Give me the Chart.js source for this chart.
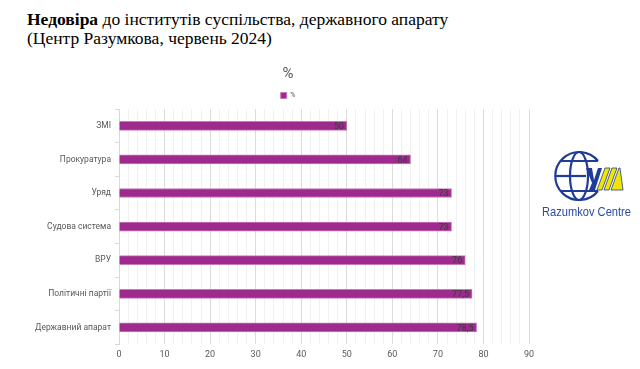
<!DOCTYPE html>
<html>
<head>
<meta charset="utf-8">
<script src="https://cdn.jsdelivr.net/npm/chart.js@4/dist/chart.umd.min.js"></script>
<style>
  html, body { margin: 0; padding: 0; background: #fff; }
  body { width: 640px; height: 369px; position: relative; overflow: hidden; }
  .ttl { position: absolute; left: 27px; top: 10px; font-family: "Liberation Serif", "Times New Roman", serif; font-size: 17.5px; line-height: 19px; color: #000; }
  .ttl b { font-weight: 700; }
  .cw { position: absolute; left: 0; top: 55px; width: 640px; height: 314px; }
  .logo { position: absolute; left: 540px; top: 145px; width: 100px; height: 80px; }
</style>
</head>
<body>
<div class="ttl"><b>Недовіра</b> до інститутів суспільства, державного апарату<br>(Центр Разумкова, червень 2024)</div>
<div class="cw"><canvas id="c" role="img" aria-label="Недовіра до інститутів"></canvas></div>
<svg class="logo" viewBox="0 0 100 80">
  <g fill="none" stroke="#1e3c98" stroke-width="2.2">
    <path d="M58 16 A24 24 0 1 0 58 46"/>
    <ellipse cx="39" cy="31" rx="9" ry="24"/>
    <line x1="21" y1="16" x2="58" y2="16"/>
    <line x1="15" y1="31" x2="46" y2="31"/>
    <line x1="21" y1="46" x2="58" y2="46"/>
  </g>
  <path d="M46 23 L52 23 L54 35 L58 23 L62 23 L55 45 L49 45 L52 38 Z" fill="#1e3c98"/>
  <path d="M57 45 L65 23 L70 23 L62 45 Z" fill="#f2e600" stroke="#1e3c98" stroke-width="0.8"/>
  <path d="M64 45 L72 23 L77 23 L69 45 Z" fill="#f2e600" stroke="#1e3c98" stroke-width="0.8"/>
  <path d="M71 45 L79 23 L80 23 L83 45 Z" fill="#f2e600" stroke="#1e3c98" stroke-width="0.8"/>
  <text x="2" y="71" font-family="Liberation Sans, Arial, sans-serif" font-size="13" fill="#2b4ba3" textLength="89" lengthAdjust="spacingAndGlyphs">Razumkov Centre</text>
</svg>
<script>
const categories = ['ЗМІ', 'Прокуратура', 'Уряд', 'Судова система', 'ВРУ', 'Політичні партії', 'Державний апарат'];
const distrust = [50, 64, 73, 73, 76, 77.5, 78.5];
const seriesName = '%';
const xMax = 90;

// value labels drawn inside the end of each bar
const barLabels = {
  id: 'barLabels',
  afterDatasetsDraw(chart) {
    const ctx = chart.ctx;
    const meta = chart.getDatasetMeta(0);
    ctx.save();
    ctx.font = '9px Roboto, "Noto Sans", sans-serif';
    ctx.fillStyle = '#3a3a3a';
    ctx.textAlign = 'right';
    ctx.textBaseline = 'middle';
    meta.data.forEach((bar, i) => {
      ctx.fillText(String(distrust[i]).replace('.', ','), bar.x - 3, bar.y + 1);
    });
    ctx.restore();
  }
};

new Chart(document.getElementById('c'), {
  type: 'bar',
  data: {
    labels: categories,
    datasets: [{
      label: seriesName,
      data: distrust,
      backgroundColor: '#9f2a8e',
      borderColor: '#c87abe',
      borderWidth: 1,
      barThickness: 9
    }]
  },
  options: {
    indexAxis: 'y',
    responsive: true,
    maintainAspectRatio: false,
    animation: false,
    layout: { padding: { left: 0, right: 64, top: 10, bottom: 4 } },
    plugins: {
      title: {
        display: true,
        text: '%',
        color: '#595959',
        font: { family: 'Roboto, "Noto Sans", sans-serif', size: 15, weight: 'normal' },
        padding: { top: 0, bottom: 3 }
      },
      legend: {
        display: true,
        labels: {
          boxWidth: 6, boxHeight: 6,
          color: '#595959',
          font: { family: 'Roboto, "Noto Sans", sans-serif', size: 7 },
          padding: 6
        }
      },
      tooltip: { enabled: false }
    },
    scales: {
      x: {
        min: 0,
        max: xMax,
        ticks: {
          stepSize: 2,
          autoSkip: false,
          maxRotation: 0,
          padding: 5,
          color: '#595959',
          font: { family: 'Roboto, "Noto Sans", sans-serif', size: 9 },
          callback: v => (v % 10 === 0 ? v : '')
        },
        grid: {
          color: ctx => (ctx.tick && ctx.tick.value % 10 === 0 ? '#dcdcdc' : '#f0f0f0'),
          drawTicks: false
        },
        border: { display: false }
      },
      y: {
        afterFit: scale => { scale.width = 119; },
        ticks: {
          color: '#595959',
          font: { family: 'Roboto, "Noto Sans", sans-serif', size: 8.5 },
          padding: 4
        },
        grid: { drawOnChartArea: false, tickLength: 4, color: '#d9d9d9' },
        border: { color: '#d9d9d9' }
      },
      // empty right-hand box that keeps the plot clear of the logo
      yRight: {
        position: 'right',
        afterFit: scale => { scale.width = 47; },
        grid: { display: false },
        ticks: { display: false },
        border: { display: false }
      }
    }
  },
  plugins: [barLabels]
});
</script>
</body>
</html>
